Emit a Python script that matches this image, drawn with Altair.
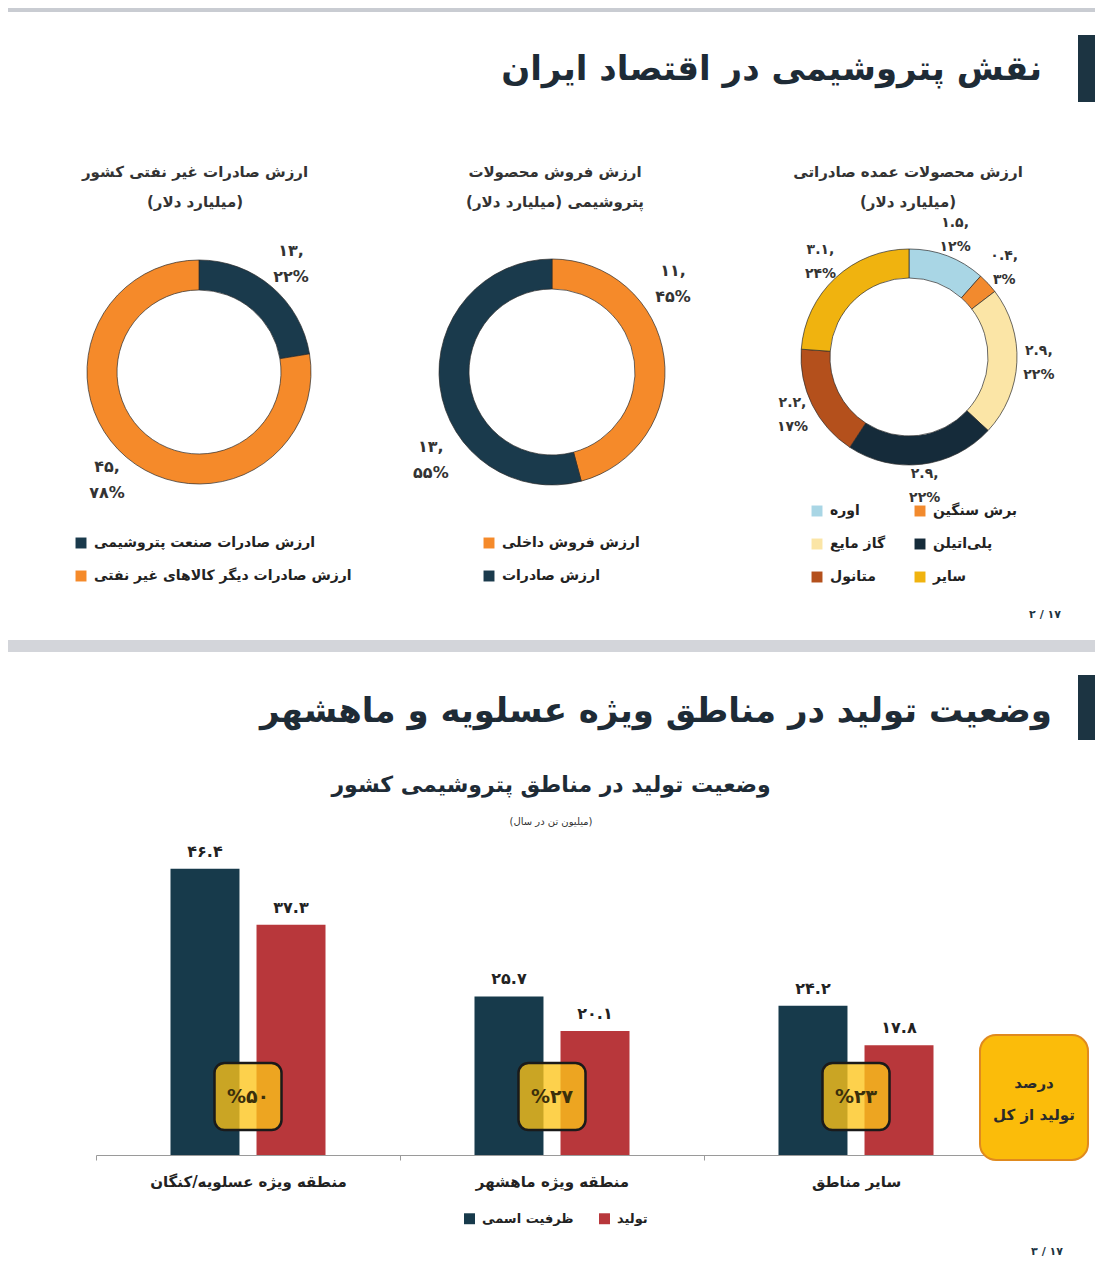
import altair as alt
import pandas as pd

FONT = "DejaVu Sans"
FA = str.maketrans("0123456789", "۰۱۲۳۴۵۶۷۸۹")


def fa(x):
    return str(x).translate(FA)


RLM = "\u200f"


def rtl(s):
    return RLM + s + RLM


# ---------------- data ----------------
# right donut: main export products (billion $)
d1_cats = ["اوره", "برش سنگین", "گاز مایع", "پلی‌اتیلن", "متانول", "سایر"]
d1_vals = [1.5, 0.4, 2.9, 2.9, 2.2, 3.1]
d1_pcts = [12, 3, 22, 22, 17, 24]
d1_colors = ["#a9d6e5", "#f28a2e", "#fbe5a6", "#152b3a", "#b4501c", "#f0b30f"]
d1_legend_order = [0, 2, 4, 1, 3, 5]   # two-column legend, filled column by column

# middle donut: petrochemical sales (billion $)
d2_cats = ["ارزش فروش داخلی", "ارزش صادرات"]
d2_vals = [11, 13]
d2_pcts = [45, 55]
d2_colors = ["#f58a2a", "#1a3a4c"]

# left donut: non-oil exports (billion $)
d3_cats = ["ارزش صادرات صنعت پتروشیمی", "ارزش صادرات دیگر کالاهای غیر نفتی"]
d3_vals = [13, 45]
d3_pcts = [22, 78]
d3_colors = ["#1a3a4c", "#f58a2a"]

# bar chart: production in petrochemical zones (million tonnes / year)
regions = ["منطقه ویژه عسلویه/کنگان", "منطقه ویژه ماهشهر", "سایر مناطق"]
series = ["ظرفیت اسمی", "تولید"]
capacity = [46.4, 25.7, 24.2]
production = [37.3, 20.1, 17.8]
share = [50, 27, 23]
bar_colors = ["#173a4b", "#b8373b"]

title_top = "نقش پتروشیمی در اقتصاد ایران"
title_bottom = "وضعیت تولید در مناطق ویژه عسلویه و ماهشهر"
bar_title = "وضعیت تولید در مناطق پتروشیمی کشور"
bar_subtitle = rtl("(میلیون تن در سال)")
d1_title = ["ارزش محصولات عمده صادراتی", rtl("(میلیارد دلار)")]
d2_title = ["ارزش فروش محصولات", rtl("پتروشیمی (میلیارد دلار)")]
d3_title = ["ارزش صادرات غیر نفتی کشور", rtl("(میلیارد دلار)")]
box_text = ["درصد", "تولید از کل"]
page_nums = ["۲ / ۱۷", "۳ / ۱۷"]

dummy = pd.DataFrame({"a": [0]})
DARK = "#1c3442"
TXT = "#222222"


def rect(x1, x2, y1, y2, color, **kw):
    return alt.Chart(dummy).mark_rect(color=color, **kw).encode(
        x=alt.value(x1), x2=alt.value(x2), y=alt.value(y1), y2=alt.value(y2))


def label(txt, x, y, size, align="center", color=TXT, weight="bold"):
    return alt.Chart(dummy).mark_text(
        align=align, baseline="middle", fontSize=size, fontWeight=weight,
        font=FONT, color=color).encode(
        x=alt.value(x), y=alt.value(y), text=alt.value(txt))


def donut(cats, vals, pcts, colors, cx, cy, r_in, r_out, r_lab,
          lx, ly, cols, col_pad, theta_off=None, legend_order=None,
          lab_size=16, lab_lh=26):
    df = pd.DataFrame({
        "cat": cats, "value": vals, "idx": list(range(len(cats))),
        "label": [fa(v) + ",\n" + fa(p) + "%" for v, p in zip(vals, pcts)],
    })
    order = legend_order if legend_order is not None else list(range(len(cats)))
    dom = [cats[i] for i in order]
    rng = [colors[i] for i in order]
    base = alt.Chart(df)
    arc = base.mark_arc(innerRadius=r_in, outerRadius=r_out,
                        stroke="#2b2b2b", strokeWidth=0.7).encode(
        theta=alt.Theta("value:Q", stack=True),
        color=alt.Color(
            "cat:N", scale=alt.Scale(domain=dom, range=rng),
            legend=alt.Legend(
                orient="none", legendX=lx, legendY=ly, title=None,
                columns=cols, columnPadding=col_pad, rowPadding=19,
                symbolType="square", symbolSize=120, symbolStrokeWidth=0,
                labelFont=FONT, labelFontSize=14, labelFontWeight="bold",
                labelColor=TXT, labelLimit=400, labelOffset=6)),
        order=alt.Order("idx:Q"),
        x=alt.value(cx), y=alt.value(cy))
    mk = dict(radius=r_lab, lineBreak="\n", lineHeight=lab_lh, fontSize=lab_size,
              fontWeight="bold", font=FONT, color="#333333",
              align="center", baseline="middle", dy=-lab_lh / 2)
    if theta_off is not None:
        mk["thetaOffset"] = theta_off
    lab = base.mark_text(**mk).encode(
        theta=alt.Theta("value:Q", stack=True),
        detail="cat:N",
        order=alt.Order("idx:Q"),
        text="label:N",
        x=alt.value(cx), y=alt.value(cy))
    return [arc, lab]


layers = []
# decorations
layers.append(rect(0, 1087, 0, 4, "#c9ccd2"))
layers.append(rect(0, 1087, 632, 644, "#d3d5da"))
layers.append(rect(1070, 1087, 27, 94, DARK))
layers.append(rect(1070, 1087, 667, 732, DARK))

# titles
layers.append(label(title_top, 1034, 62, 34, align="right", color="#1e2b36"))
layers.append(label(title_bottom, 1044, 704, 34, align="right", color="#1e2b36"))
layers.append(label(page_nums[0], 1037, 607, 11, color=DARK))
layers.append(label(page_nums[1], 1039, 1244, 11, color=DARK))

# donut titles
for t, cx in ((d1_title, 900), (d2_title, 547), (d3_title, 187)):
    layers.append(label(t[0], cx, 164, 15, color="#333333"))
    layers.append(label(t[1], cx, 194, 15, color="#333333"))

# donuts
layers += donut(d1_cats, d1_vals, d1_pcts, d1_colors, 901, 349, 79, 108, 130,
                802, 496, 2, 27, legend_order=d1_legend_order,
                lab_size=14, lab_lh=24)
layers += donut(d2_cats, d2_vals, d2_pcts, d2_colors, 544, 364, 83, 113, 150,
                474, 528, 1, 10, theta_off=-0.5)
layers += donut(d3_cats, d3_vals, d3_pcts, d3_colors, 191, 364, 82, 112, 142,
                66, 528, 1, 10)

# ---------------- bar chart ----------------
bars_df = pd.DataFrame({
    "region": regions * 2,
    "series": [series[0]] * 3 + [series[1]] * 3,
    "value": capacity + production,
})
bars_df["label"] = bars_df["value"].map(fa)
share_df = pd.DataFrame({"region": regions, "share": share})
share_df["label"] = share_df["share"].map(lambda s: "%" + fa(s))

xenc = alt.X(
    "region:N", sort=regions,
    scale=alt.Scale(domain=regions, range=[88, 1000], paddingInner=0, paddingOuter=0),
    axis=alt.Axis(title=None, labelAngle=0, tickBand="extent", offset=-113,
                  domainColor="#9a9a9a", tickColor="#9a9a9a", tickSize=5,
                  labelFont=FONT, labelFontSize=15, labelFontWeight="bold",
                  labelColor=TXT, labelPadding=14, grid=False, labelLimit=400))
yenc = alt.Y("value:Q", scale=alt.Scale(domain=[0, 50], range=[1147, 838.5]), axis=None)
xoff = alt.XOffset("series:N", sort=series,
                   scale=alt.Scale(domain=series, paddingInner=0.198, paddingOuter=0.866))

bars = alt.Chart(bars_df).mark_bar().encode(
    x=xenc, y=yenc, xOffset=xoff,
    color=alt.Color("series:N", scale=alt.Scale(domain=series, range=bar_colors),
                    legend=alt.Legend(
                        orient="none", legendX=455, legendY=1204, title=None,
                        direction="horizontal", columnPadding=24,
                        symbolType="square", symbolSize=120, symbolStrokeWidth=0,
                        labelFont=FONT, labelFontSize=13, labelFontWeight="bold",
                        labelColor=TXT, labelOffset=6)),
)
bar_labels = alt.Chart(bars_df).mark_text(
    baseline="bottom", dy=-9, fontSize=16, fontWeight="bold", font=FONT,
    color=TXT).encode(x=xenc, y=yenc, xOffset=xoff, text="label:N")

share_boxes = alt.Chart(share_df).mark_bar(
    width=67, cornerRadius=10, fill="#fcc419", fillOpacity=0.78,
    stroke="#1a1a1a", strokeWidth=2.5).encode(
    x=xenc, y=alt.value(1055), y2=alt.value(1122))
share_text = alt.Chart(share_df).mark_text(
    fontSize=19, fontWeight="bold", font=FONT, color="#3b2f0b",
    baseline="middle").encode(x=xenc, y=alt.value(1089), text="label:N")

layers += [bars, bar_labels, share_boxes, share_text]

# side box and bar titles
layers.append(rect(972, 1080, 1027, 1152, "#fbbc0a", stroke="#e08a1e",
                   strokeWidth=2, cornerRadius=16))
layers.append(label(box_text[0], 1026, 1075, 15, color="#2a2a2a"))
layers.append(label(box_text[1], 1026, 1107, 15, color="#2a2a2a"))
layers.append(label(bar_title, 543, 777, 22, color="#1e2b36"))
layers.append(label(bar_subtitle, 543, 814, 10, color="#333333", weight="normal"))

chart = alt.layer(*layers).properties(
    width=1087, height=1260, padding=0,
    autosize=alt.AutoSizeParams(type="none"),
).resolve_scale(theta="independent", color="independent").configure_view(stroke=None)

chart.save("out.html", embed_options={"renderer": "svg", "actions": False})
